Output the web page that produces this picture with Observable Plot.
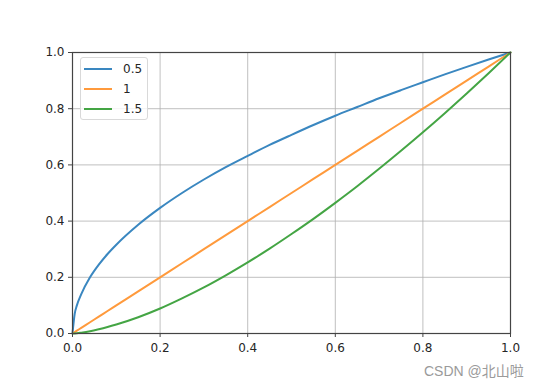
<!DOCTYPE html>
<html>
<head>
<meta charset="utf-8">
<script src="https://cdn.jsdelivr.net/npm/d3@7"></script>
<script src="https://cdn.jsdelivr.net/npm/@observablehq/plot@0.6"></script>
<style>
  body { margin: 0; background: #fff; }
  #wrap { position: relative; width: 539px; height: 384px; font-family: "DejaVu Sans", sans-serif; }
  #legend { position: absolute; left: 80px; top: 57px; width: 68px; height: 63px; border: 1px solid #d9d9d9; border-radius: 3px; background: rgba(255,255,255,0.8); box-sizing: border-box; }
  .row { position: absolute; left: 3px; height: 16px; display: flex; align-items: center; font-size: 12px; color: #262626; }
  .sw { width: 28px; height: 2px; margin-right: 11px; }
  #wm { position: absolute; left: 424px; top: 360px; font-size: 14px; color: #9a9a9a; font-family: "Liberation Sans", "Noto Sans CJK SC", sans-serif; }
</style>
</head>
<body>
<div id="wrap"></div>
<script>
// x samples
const xs = [0, 0.005, 0.01, 0.02, 0.04, 0.06, 0.08, 0.1, 0.15, 0.2, 0.25, 0.3, 0.35, 0.4, 0.45, 0.5, 0.55, 0.6, 0.65, 0.7, 0.75, 0.8, 0.85, 0.9, 0.95, 1.0];
// series values
const y05 = [0, 0.07, 0.1, 0.14, 0.2, 0.245, 0.283, 0.316, 0.387, 0.447, 0.5, 0.548, 0.592, 0.632, 0.671, 0.707, 0.742, 0.775, 0.806, 0.837, 0.866, 0.894, 0.922, 0.949, 0.975, 1.0];
const y1  = [0, 0.005, 0.01, 0.02, 0.04, 0.06, 0.08, 0.1, 0.15, 0.2, 0.25, 0.3, 0.35, 0.4, 0.45, 0.5, 0.55, 0.6, 0.65, 0.7, 0.75, 0.8, 0.85, 0.9, 0.95, 1.0];
const y15 = [0, 0.0004, 0.001, 0.003, 0.008, 0.015, 0.023, 0.032, 0.058, 0.089, 0.125, 0.164, 0.207, 0.253, 0.302, 0.354, 0.408, 0.465, 0.524, 0.586, 0.65, 0.716, 0.784, 0.854, 0.926, 1.0];
const seriesNames = ["0.5", "1", "1.5"];
const seriesColors = ["#3a87c0", "#ff9a3c", "#44a544"];
const ticks = [0, 0.2, 0.4, 0.6, 0.8, 1.0];
const gridTicks = [0.2, 0.4, 0.6, 0.8];

const allY = [y05, y1, y15];
const data = [];
seriesNames.forEach((s, i) => xs.forEach((x, j) => data.push({s, x, y: allY[i][j]})));

const fmt = d3.format(".1f");
const chart = Plot.plot({
  width: 539, height: 384,
  marginLeft: 72, marginRight: 29, marginTop: 52, marginBottom: 51,
  style: { fontFamily: "DejaVu Sans, sans-serif", fontSize: "12px", color: "#262626", background: "#fff" },
  x: { domain: [0, 1], label: null },
  y: { domain: [0, 1], label: null },
  color: { domain: seriesNames, range: seriesColors },
  marks: [
    Plot.gridX(gridTicks, { stroke: "#b0b0b0", strokeOpacity: 0.8, strokeWidth: 1 }),
    Plot.gridY(gridTicks, { stroke: "#b0b0b0", strokeOpacity: 0.8, strokeWidth: 1 }),
    Plot.line(data, { x: "x", y: "y", z: "s", stroke: "s", strokeWidth: 2, curve: "monotone-x" }),
    Plot.frame({ stroke: "#444", strokeWidth: 1.2 }),
    Plot.axisX(ticks, { tickSize: 4, tickPadding: 6, tickFormat: fmt, label: null, stroke: "#444", fontSize: 12 }),
    Plot.axisY(ticks, { tickSize: 4, tickPadding: 4, tickFormat: fmt, label: null, stroke: "#444", fontSize: 12 })
  ]
});
const wrap = document.getElementById("wrap");
wrap.appendChild(chart);

const legend = document.createElement("div");
legend.id = "legend";
seriesNames.forEach((s, i) => {
  const row = document.createElement("div");
  row.className = "row";
  row.style.top = (3 + i * 20) + "px";
  const sw = document.createElement("span");
  sw.className = "sw";
  sw.style.background = seriesColors[i];
  const t = document.createElement("span");
  t.textContent = s;
  row.appendChild(sw); row.appendChild(t);
  legend.appendChild(row);
});
wrap.appendChild(legend);

const wm = document.createElement("div");
wm.id = "wm";
wm.textContent = "CSDN @北山啦";
wrap.appendChild(wm);
</script>
</body>
</html>
